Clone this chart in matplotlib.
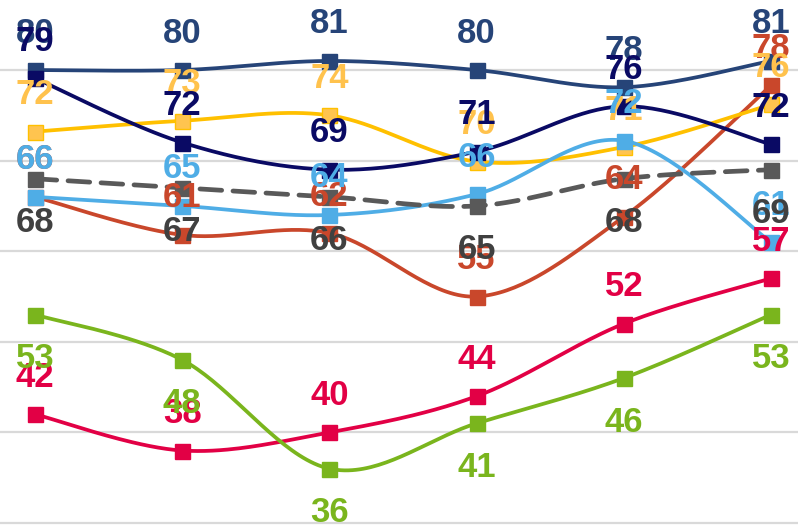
import numpy as np
import matplotlib
matplotlib.use("Agg")
import matplotlib.pyplot as plt

# ---- data ----
x_idx = [0, 1, 2, 3, 4, 5]

slate_vals = [80, 80, 81, 80, 78.1, 81]
slate_lbls = [80, 80, 81, 80, 78, 81]

orange_vals = [66, 61.8, 62, 55, 63.8, 78.3]
orange_lbls = [66, 61, 62, 55, 64, 78]

yellow_vals = [73.2, 74.4, 75, 69.9, 71.5, 76.2]
yellow_lbls = [72, 73, 74, 70, 71, 76]

navy_vals = [79.1, 72, 69, 71, 76, 71.8]
navy_lbls = [79, 72, 69, 71, 76, 72]

lblue_vals = [66, 65, 64, 66.3, 72.2, 61]
lblue_lbls = [66, 65, 64, 66, 72, 61]

gray_vals = [68, 67, 66, 65, 68, 69]
gray_lbls = [68, 67, 66, 65, 68, 69]

crimson_vals = [42, 38, 40, 44, 52, 57]
crimson_lbls = [42, 38, 40, 44, 52, 57]

green_vals = [53, 48, 36, 41, 46, 53]
green_lbls = [53, 48, 36, 41, 46, 53]

grid_vals = [30, 40, 50, 60, 70, 80, 90]

# series: (values, labels, line colour, marker face, label colour, label side, dashed)
series = [
    (slate_vals, slate_lbls, "#264478", "#264478", "#264478", 1, False),
    (orange_vals, orange_lbls, "#C9472B", "#C9472B", "#C9472B", 1, False),
    (yellow_vals, yellow_lbls, "#FFC000", "#FFC44F", "#FFC24D", 1, False),
    (navy_vals, navy_lbls, "#0A0A64", "#0A0A64", "#0A0A64", 1, False),
    (lblue_vals, lblue_lbls, "#4FADE6", "#4FADE6", "#4FADE6", 1, False),
    (gray_vals, gray_lbls, "#595959", "#595959", "#404040", -1, True),
    (crimson_vals, crimson_lbls, "#E20045", "#E20045", "#E20045", 1, False),
    (green_vals, green_lbls, "#7AB51D", "#7AB51D", "#7AB51D", -1, False),
]


def smooth(xs, ys, n=40):
    xs = np.asarray(xs, float)
    ys = np.asarray(ys, float)
    P = np.column_stack([xs, ys])
    Pe = np.vstack([P[0], P, P[-1]])
    out = []
    t = np.linspace(0, 1, n)[:, None]
    for i in range(len(P) - 1):
        p0, p3 = Pe[i + 1], Pe[i + 2]
        b1 = p0 + (Pe[i + 2] - Pe[i]) / 6.0
        b2 = p3 - (Pe[i + 3] - Pe[i + 1]) / 6.0
        seg = ((1 - t) ** 3) * p0 + 3 * ((1 - t) ** 2) * t * b1 + 3 * (1 - t) * t ** 2 * b2 + t ** 3 * p3
        out.append(seg if i == 0 else seg[1:])
    c = np.vstack(out)
    return c[:, 0], c[:, 1]


fig = plt.figure(figsize=(7.98, 5.27), dpi=100)
ax = fig.add_axes([0, 0, 1, 1])
ax.set_xlim(-0.238, 5.183)
ax.set_ylim(29.56, 87.73)
ax.axis("off")

for g in grid_vals:
    ax.axhline(g, color="#D9D9D9", lw=1.6, zorder=0)

z = 2
for vals, lbls, lc, mf, tc, side, dashed in series:
    sx, sy = smooth(x_idx, vals)
    if dashed:
        ax.plot(sx, sy, color=lc, lw=3.4, ls=(0, (4.6, 2.4)), zorder=z,
                solid_capstyle="round", dash_capstyle="round")
    else:
        ax.plot(sx, sy, color=lc, lw=2.7, zorder=z, solid_capstyle="round")
    ax.plot(x_idx, vals, ls="none", marker="s", ms=10.8, mfc=mf, mec=lc,
            mew=1.0, zorder=z + 0.5)
    z += 1

for vals, lbls, lc, mf, tc, side, dashed in series:
    off = 37 if side > 0 else -44
    for xi, v, lb in zip(x_idx, vals, lbls):
        ax.annotate(str(lb), (xi, v), xytext=(0, off),
                    textcoords="offset pixels", ha="center", va="center",
                    fontsize=25, fontweight="bold", color=tc,
                    family="Liberation Sans", zorder=20)

fig.savefig("out.png", dpi=100)
